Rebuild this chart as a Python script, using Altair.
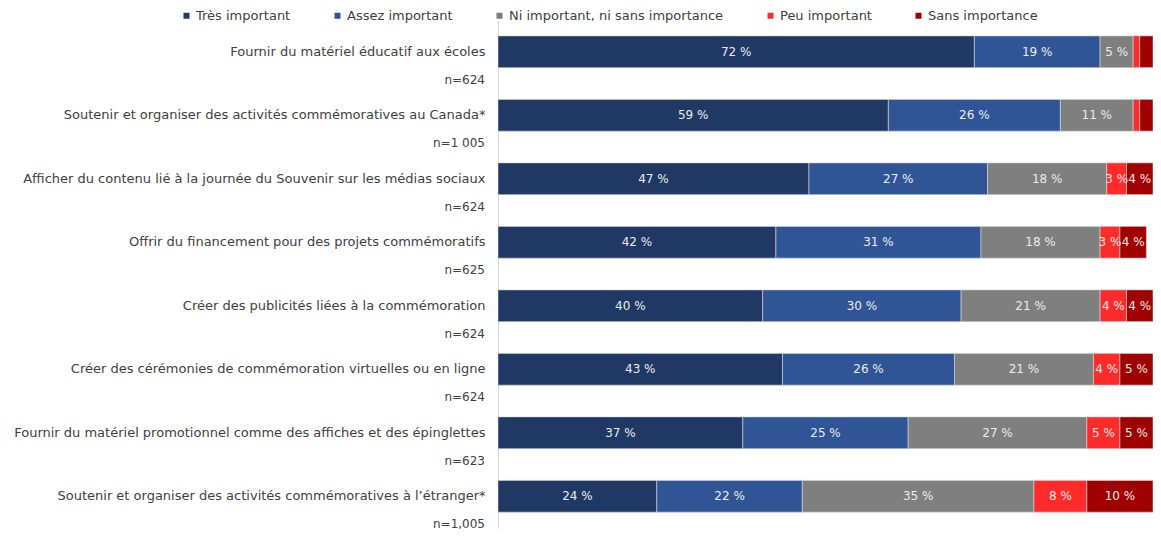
import altair as alt
import pandas as pd

categories = [
    "Fournir du matériel éducatif aux écoles",
    "Soutenir et organiser des activités commémoratives au Canada*",
    "Afficher du contenu lié à la journée du Souvenir sur les médias sociaux",
    "Offrir du financement pour des projets commémoratifs",
    "Créer des publicités liées à la commémoration",
    "Créer des cérémonies de commémoration virtuelles ou en ligne",
    "Fournir du matériel promotionnel comme des affiches et des épinglettes",
    "Soutenir et organiser des activités commémoratives à l’étranger*",
]
n_labels = ["n=624", "n=1 005", "n=624", "n=625", "n=624", "n=624", "n=623", "n=1,005"]

responses = ["Très important", "Assez important", "Ni important, ni sans importance",
             "Peu important", "Sans importance"]
colors = ["#203864", "#2F5597", "#7F7F7F", "#FF2B2B", "#A00000"]

tres = [72, 59, 47, 42, 40, 43, 37, 24]
assez = [19, 26, 27, 31, 30, 26, 25, 22]
ni = [5, 11, 18, 18, 21, 21, 27, 35]
peu = [1, 1, 3, 3, 4, 4, 5, 8]
sans = [2, 2, 4, 4, 4, 5, 5, 10]

series = [tres, assez, ni, peu, sans]
rows = []
for ri, (resp, vals) in enumerate(zip(responses, series)):
    for ci, cat in enumerate(categories):
        rows.append({"category": cat, "response": resp, "order": ri, "value": vals[ci]})
df = pd.DataFrame(rows)
ndf = pd.DataFrame({"category": categories, "n": n_labels})

FONT = "DejaVu Sans"
TXT = "#404040"

y_enc = alt.Y("category:N", sort=categories, title=None,
              scale=alt.Scale(paddingInner=0.5, paddingOuter=0.25),
              axis=alt.Axis(ticks=False, labelPadding=13, labelFontSize=13,
                            labelColor=TXT, labelFont=FONT, domainColor="#d9d9d9",
                            labelLimit=700))

base = alt.Chart(df).transform_stack(
    stack="value", as_=["x0", "x1"], groupby=["category"],
    sort=[alt.SortField("order", order="ascending")]
).transform_calculate(
    mid="(datum.x0 + datum.x1) / 2",
    lab="datum.value + ' %'"
)

bars = base.mark_bar(stroke="#d6d6d6", strokeWidth=0.6).encode(
    x=alt.X("x0:Q", scale=alt.Scale(domain=[0, 99], nice=False), axis=None, title=None),
    x2="x1:Q",
    y=y_enc,
    color=alt.Color("response:N", sort=responses,
                    scale=alt.Scale(domain=responses, range=colors),
                    legend=alt.Legend(orient="none", legendX=-318, legendY=-11,
                                      direction="horizontal", title=None,
                                      symbolType="square", symbolSize=36,
                                      symbolStrokeWidth=0, columnPadding=40,
                                      labelFontSize=13, labelFont=FONT,
                                      labelLimit=0,
                                      labelColor=TXT, labelOffset=3)),
)

texts = base.transform_filter("datum.value >= 3").mark_text(
    fontSize=12, font=FONT, color="#ececec"
).encode(
    x="mid:Q",
    y=alt.Y("category:N", sort=categories),
    text="lab:N",
)

nt = alt.Chart(ndf).mark_text(align="right", dy=28, fontSize=12, font=FONT,
                              color=TXT).encode(
    x=alt.value(-13),
    y=alt.Y("category:N", sort=categories),
    text="n:N",
)

chart = alt.layer(bars, texts, nt).properties(
    width=655, height=508,
    autosize=alt.AutoSizeParams(type="none"),
    padding={"left": 490, "top": 12, "right": 0, "bottom": 3},
).configure_view(stroke=None)

chart.save("out.html", embed_options={"renderer": "svg", "actions": False})
